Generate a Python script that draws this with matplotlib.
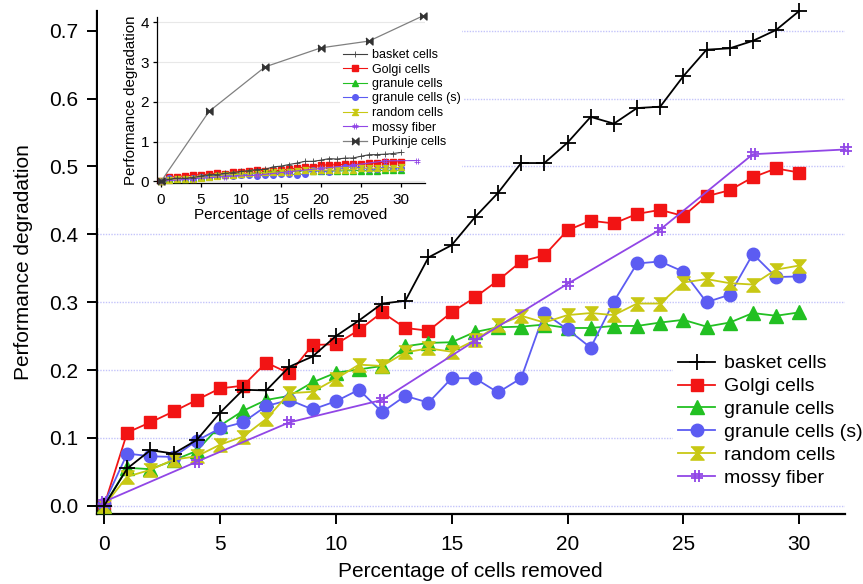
import numpy as np
import matplotlib.pyplot as plt
from matplotlib.path import Path
from matplotlib.patches import Rectangle

plt.rcParams['font.family'] = ['Liberation Sans', 'DejaVu Sans']

# values
pct = list(range(31))
basket = [0.000, 0.055, 0.082, 0.077, 0.097, 0.137, 0.171, 0.170, 0.205, 0.220, 0.250,
          0.273, 0.298, 0.302, 0.366, 0.384, 0.425, 0.461, 0.505, 0.505, 0.535,
          0.573, 0.563, 0.586, 0.588, 0.633, 0.672, 0.674, 0.685, 0.701, 0.729]
golgi = [0.000, 0.108, 0.123, 0.139, 0.156, 0.173, 0.177, 0.211, 0.195, 0.237, 0.238,
         0.259, 0.285, 0.262, 0.258, 0.285, 0.307, 0.332, 0.360, 0.369, 0.406,
         0.420, 0.416, 0.430, 0.436, 0.427, 0.456, 0.465, 0.484, 0.497, 0.491]
granule = [0.000, 0.056, 0.054, 0.067, 0.081, 0.118, 0.140, 0.156, 0.162, 0.182, 0.196,
           0.201, 0.206, 0.235, 0.240, 0.241, 0.256, 0.263, 0.264, 0.267, 0.262,
           0.262, 0.265, 0.265, 0.270, 0.274, 0.264, 0.270, 0.284, 0.280, 0.285]
granule_s = [0.003, 0.077, 0.073, 0.072, 0.096, 0.114, 0.123, 0.147, 0.156, 0.142, 0.154,
             0.171, 0.138, 0.162, 0.152, 0.188, 0.188, 0.167, 0.188, 0.284, 0.260,
             0.233, 0.301, 0.357, 0.360, 0.345, 0.300, 0.311, 0.371, 0.337, 0.338]
random_cells = [0.000, 0.043, 0.053, 0.068, 0.073, 0.090, 0.102, 0.128, 0.166, 0.168, 0.187,
                0.208, 0.206, 0.226, 0.232, 0.227, 0.244, 0.266, 0.280, 0.270, 0.281,
                0.284, 0.281, 0.298, 0.298, 0.329, 0.334, 0.328, 0.326, 0.348, 0.354]
mossy_pct = [0, 4, 8, 12, 16, 20, 24, 28, 32]
mossy = [0.006, 0.065, 0.123, 0.156, 0.243, 0.327, 0.407, 0.518, 0.525]
purkinje_pct = [0, 6, 13, 20, 26, 32.7]
purkinje = [0.0, 1.76, 2.88, 3.36, 3.53, 4.16]

# marker shapes
hash_mk = Path([(-0.35, -1), (-0.35, 1), (0.35, -1), (0.35, 1),
                (-1, -0.35), (1, -0.35), (-1, 0.35), (1, 0.35)],
               [Path.MOVETO, Path.LINETO] * 4)
hourglass = [(-1, 1), (1, 1), (0.15, 0), (1, -1), (-1, -1), (-0.15, 0)]
bowtie = [(-1, 1), (0, 0.1), (1, 1), (1, -1), (0, -0.1), (-1, -1)]

c_basket = '#000000'
c_golgi = '#f21414'
c_gran = '#22c022'
c_grans = '#5c5cf2'
c_rand = '#c8c814'
c_mossy = '#9146e6'


def draw_series(ax, scale, lw, basket_color=c_basket):
    # scale: marker size factor (main plot = 1)
    ax.plot(pct, basket, color=basket_color, lw=lw, marker='+', ms=11 * scale, mew=1.3 * scale,
            label='basket cells', zorder=6, clip_on=False)
    ax.plot(pct, golgi, color=c_golgi, lw=lw, marker='s', ms=9 * scale, mec=c_golgi,
            label='Golgi cells', zorder=3, clip_on=False)
    ax.plot(pct, granule, color=c_gran, lw=lw, marker='^', ms=9.5 * scale, mec=c_gran,
            label='granule cells', zorder=3, clip_on=False)
    ax.plot(pct, granule_s, color=c_grans, lw=lw, marker='o', ms=9 * scale, mec=c_grans,
            label='granule cells (s)', zorder=4, clip_on=False)
    ax.plot(pct, random_cells, color=c_rand, lw=lw, marker=hourglass, ms=9.5 * scale, mec=c_rand,
            label='random cells', zorder=4, clip_on=False)
    ax.plot(mossy_pct, mossy, color=c_mossy, lw=lw, marker=hash_mk, ms=8.5 * scale, mew=1.3 * scale,
            mfc='none', label='mossy fiber', zorder=5, clip_on=False)


fig = plt.figure(figsize=(8.63, 5.84), dpi=100)

# main plot
ax = fig.add_axes([0.112, 0.1199, 0.867, 0.8613])
draw_series(ax, 1.0, 1.3)
ax.set_xlim(-0.32, 31.97)
ax.set_ylim(-0.012, 0.729)
ax.set_xticks([0, 5, 10, 15, 20, 25, 30])
ax.set_yticks(np.arange(0, 0.71, 0.1))
ax.set_yticklabels(['%.1f' % v for v in np.arange(0, 0.71, 0.1)])
ax.yaxis.grid(True, color='#c4c4fa', ls=(0, (1, 1)), lw=1.0)
ax.set_axisbelow(True)
for s in ['top', 'right']:
    ax.spines[s].set_visible(False)
for s in ['left', 'bottom']:
    ax.spines[s].set_linewidth(1.6)
ax.tick_params(axis='both', direction='out', length=7, width=1.4, labelsize=15)
ax.tick_params(axis='x', pad=8)
ax.tick_params(axis='y', pad=6)
ax.set_xlabel('Percentage of cells removed', fontsize=15, labelpad=6)
ax.set_ylabel('Performance degradation', fontsize=15, labelpad=12)

leg = ax.legend(loc='upper left', bbox_to_anchor=(672.5 / 863, 1 - 349 / 584),
                bbox_transform=fig.transFigure, fontsize=14, frameon=True,
                facecolor='white', edgecolor='none', framealpha=1, fancybox=False,
                borderpad=0.3, borderaxespad=0, handlelength=1.9, handletextpad=0.43,
                labelspacing=0.27)
leg.set_zorder(10)

# white area behind the inset
fig.patches.append(Rectangle((98 / 863, 1 - 228 / 584), 364 / 863, 228 / 584,
                             transform=fig.transFigure, facecolor='white',
                             edgecolor='none', zorder=1))

# inset with Purkinje cells
ins = fig.add_axes([0.1816, 0.6861, 0.3109, 0.2851])
ins.set_zorder(2)
ins.patch.set_alpha(0)
draw_series(ins, 0.45, 0.8, basket_color='#404040')
ins.plot(purkinje_pct, purkinje, color='#808080', lw=0.9, marker=bowtie, ms=5,
         mfc='#333333', mec='#333333', label='Purkinje cells', zorder=6, clip_on=False)
ins.set_xlim(-0.54, 33.0)
ins.set_ylim(-0.048, 4.14)
ins.set_xticks([0, 5, 10, 15, 20, 25, 30])
ins.set_yticks([0, 1, 2, 3, 4])
ins.yaxis.grid(True, color='#e8e8e8', lw=0.8)
ins.set_axisbelow(True)
for s in ['top', 'right']:
    ins.spines[s].set_visible(False)
for s in ['left', 'bottom']:
    ins.spines[s].set_linewidth(0.9)
ins.tick_params(axis='both', direction='out', length=3, width=0.9, labelsize=11)
ins.tick_params(axis='x', pad=4)
ins.tick_params(axis='y', pad=2.5)
ins.set_xlabel('Percentage of cells removed', fontsize=11, labelpad=1)
ins.set_ylabel('Performance degradation', fontsize=10.8, labelpad=2)

ileg = ins.legend(loc='upper left', bbox_to_anchor=(340.2 / 863, 1 - 46.5 / 584),
                  bbox_transform=fig.transFigure, fontsize=9, frameon=True,
                  facecolor='white', edgecolor='none', framealpha=1, fancybox=False,
                  borderpad=0.2, borderaxespad=0, handlelength=1.92, handletextpad=0.4,
                  labelspacing=0.2)

fig.savefig('out.png', dpi=100, facecolor='white')
